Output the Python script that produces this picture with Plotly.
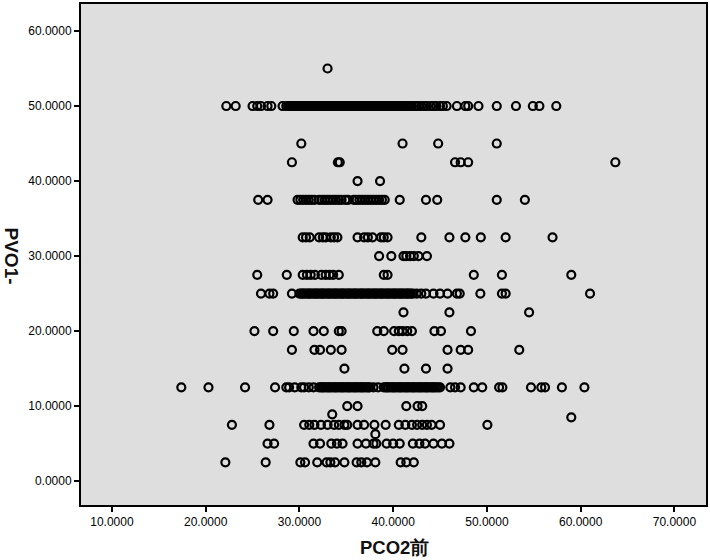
import plotly.graph_objects as go

# PCO2前 values (x) grouped by PVO1- level (y)
x_at_55 = [33.0]
x_at_50 = [22.2, 23.2, 25.0, 25.5, 25.9, 26.6, 27.0, 28.2,
           28.6, 28.8, 29.0, 29.15, 29.3, 29.5, 29.7, 29.85, 30.0, 30.2, 30.4, 30.55,
           30.7, 30.9, 31.1, 31.25, 31.4, 31.6, 31.8, 31.95, 32.1, 32.3, 32.5, 32.65,
           32.8, 33.0, 33.2, 33.35, 33.5, 33.7, 33.9, 34.05, 34.2, 34.4, 34.6, 34.75,
           34.9, 35.1, 35.3, 35.45, 35.6, 35.8, 36.0, 36.15, 36.3, 36.5, 36.7, 36.85,
           37.0, 37.2, 37.4, 37.55, 37.7, 37.9, 38.1, 38.25, 38.4, 38.6, 38.8, 38.95,
           39.1, 39.3, 39.5, 39.65, 39.8, 40.0, 40.2, 40.35, 40.5, 40.7, 40.9, 41.05,
           41.2, 41.4, 41.6, 41.8, 42.0,
           42.3, 42.5, 42.7, 43.0, 43.3, 43.6, 44.0, 44.3, 44.6, 45.0, 45.3, 45.7,
           46.8, 47.7, 48.0, 49.1, 51.05, 53.1, 54.9, 55.6, 57.4]
x_at_45 = [30.2, 41.0, 44.8, 51.05]
x_at_42_5 = [29.2, 34.1, 34.3, 46.6, 47.2, 48.0, 63.7]
x_at_40 = [36.2, 38.6]
x_at_37_5 = [25.6, 26.6, 29.8, 30.1, 30.4, 30.7, 31.0, 31.3, 31.6, 32.1, 32.4, 32.7,
             33.0, 33.3, 33.6, 33.9, 34.2, 34.5, 34.9, 35.2, 35.8, 36.1, 36.4, 36.7,
             37.0, 37.3, 37.6, 37.9, 38.2, 38.5, 38.8, 39.1, 40.7, 43.5, 44.7, 51.05,
             54.05]
x_at_32_5 = [30.35, 30.7, 31.1, 32.1, 32.5, 32.8, 33.35, 33.7, 34.05, 36.2, 36.9,
             37.3, 37.8, 38.7, 39.0, 39.4, 43.0, 46.0, 47.7, 49.35, 52.0, 57.0]
x_at_30 = [38.5, 39.8, 41.1, 41.4, 41.8, 42.2, 42.7, 43.6]
x_at_27_5 = [25.5, 28.65, 30.35, 30.8, 31.2, 31.65, 32.35, 32.8, 33.2, 33.6, 34.2,
             39.0, 39.4, 48.6, 51.6, 59.0]
x_at_25 = [25.9, 26.8, 27.2, 29.2,
           30.0, 30.2, 30.35, 30.5, 30.7, 30.9, 31.05, 31.2, 31.4, 31.6, 31.75, 31.9,
           32.1, 32.3, 32.45, 32.6, 32.8, 33.0, 33.15, 33.3, 33.5, 33.7, 33.85, 34.0,
           34.2, 34.4, 34.55, 34.7, 34.9, 35.1, 35.25, 35.4, 35.6, 35.8, 35.95, 36.1,
           36.3, 36.5, 36.65, 36.8, 37.0, 37.2, 37.35, 37.5, 37.7, 37.9, 38.05, 38.2,
           38.4, 38.6, 38.75, 38.9, 39.1, 39.3, 39.45, 39.6, 39.8, 40.0, 40.15, 40.3,
           40.5, 40.7, 40.85, 41.0, 41.2, 41.4, 41.55, 41.7, 41.9, 42.1,
           42.5, 43.0, 43.5, 44.3, 45.0, 45.8, 46.8, 47.1, 49.3, 51.6, 52.0, 61.0]
x_at_22_5 = [41.1, 46.0, 54.5]
x_at_20 = [25.2, 27.2, 29.4, 31.5, 32.6, 34.2, 34.5, 38.3, 39.0, 40.1, 40.6, 41.0,
           41.5, 42.0, 44.4, 45.1, 48.3]
x_at_17_5 = [29.2, 31.6, 32.2, 33.35, 34.5, 39.9, 41.0, 45.8, 47.2, 48.0, 53.45]
x_at_15 = [34.8, 41.2, 43.5, 45.8]
x_at_12_5 = [17.4, 20.3, 24.2, 27.4, 28.6, 28.9, 29.5, 30.2, 30.5, 31.0, 31.5,
             32.1, 32.3, 32.45, 32.6, 32.8, 33.0, 33.15, 33.3, 33.5, 33.7, 33.85, 34.0,
             34.2, 34.4, 34.55, 34.7, 34.9, 35.1, 35.25, 35.4, 35.6, 35.8, 35.95, 36.1,
             36.3, 36.5, 36.65, 36.8, 37.0, 37.2, 37.35, 37.5,
             37.9, 38.4,
             39.0, 39.2, 39.35, 39.5, 39.7, 39.9, 40.05, 40.2, 40.4, 40.6, 40.75, 40.9,
             41.1, 41.3, 41.45, 41.6, 41.8, 42.0, 42.15, 42.3, 42.5, 42.7, 42.85, 43.0,
             43.2, 43.4, 43.55, 43.7, 43.9, 44.1, 44.25, 44.4, 44.6, 44.8, 45.0,
             46.1, 46.6, 47.2, 48.6, 49.5, 51.3, 51.65, 54.7, 55.8, 56.2, 58.0, 60.4]
x_at_10 = [35.1, 36.2, 41.4, 42.6, 43.1]
x_at_8_9 = [33.5]
x_at_8_5 = [59.0]
x_at_7_5 = [22.8, 26.8, 30.5, 31.05, 31.6, 32.3, 33.0, 33.7, 34.2, 34.8, 35.1, 36.2,
            36.9, 38.0, 39.2, 40.6, 41.3, 42.0, 42.55, 43.1, 43.6, 44.1, 45.0, 50.05]
x_at_6_25 = [38.1]
x_at_5 = [26.6, 27.3, 31.5, 32.2, 33.4, 34.0, 34.6, 36.2, 37.1, 37.9, 38.2, 39.3,
          40.0, 40.7, 42.1, 42.8, 43.4, 44.3, 45.2, 46.0]
x_at_2_5 = [22.1, 26.4, 30.1, 30.6, 31.9, 32.9, 33.3, 33.8, 34.8, 36.1, 36.6, 37.2,
            38.1, 40.8, 41.4, 42.2]

pvo_levels = [55, 50, 45, 42.5, 40, 37.5, 32.5, 30, 27.5, 25, 22.5, 20, 17.5, 15,
              12.5, 10, 8.9, 8.5, 7.5, 6.25, 5, 2.5]
pco_groups = [x_at_55, x_at_50, x_at_45, x_at_42_5, x_at_40, x_at_37_5, x_at_32_5,
              x_at_30, x_at_27_5, x_at_25, x_at_22_5, x_at_20, x_at_17_5, x_at_15,
              x_at_12_5, x_at_10, x_at_8_9, x_at_8_5, x_at_7_5, x_at_6_25, x_at_5,
              x_at_2_5]

x_ticks = [10, 20, 30, 40, 50, 60, 70]
y_ticks = [0, 10, 20, 30, 40, 50, 60]

xs, ys = [], []
for lvl, grp in zip(pvo_levels, pco_groups):
    xs.extend(grp)
    ys.extend([lvl] * len(grp))

fig = go.Figure()
fig.add_trace(go.Scatter(
    x=xs, y=ys, mode="markers",
    marker=dict(symbol="circle-open", size=8, color="black",
                line=dict(width=2.2, color="black")),
    hoverinfo="x+y", showlegend=False,
))

font_fam = "Liberation Sans, Arial, Helvetica, sans-serif"
axis_common = dict(
    showline=True, linecolor="black", linewidth=2, mirror=True,
    ticks="outside", ticklen=5, tickwidth=2, tickcolor="black",
    showgrid=False, zeroline=False, tickformat=".4f",
    tickfont=dict(family=font_fam, size=12, color="#000000"),
)

fig.update_layout(
    width=710, height=560,
    margin=dict(l=81, r=3, t=2, b=55),
    paper_bgcolor="white", plot_bgcolor="#DEDEDE",
    xaxis=dict(range=[6.7, 73.37], tickvals=x_ticks, **axis_common),
    yaxis=dict(range=[-3.19, 63.6], tickvals=y_ticks, **axis_common),
    annotations=[
        dict(text="<b>PCO2前</b>", xref="paper", yref="paper", x=0.5016, y=-0.0855,
             xanchor="center", yanchor="middle", showarrow=False,
             font=dict(family=font_fam, size=18.5, color="#111111")),
        dict(text="<b>PVO1-</b>", xref="paper", yref="paper", x=-0.112, y=0.498,
             xanchor="center", yanchor="middle", showarrow=False, textangle=90,
             font=dict(family=font_fam, size=19, color="#111111")),
    ],
)

fig.write_html("out.html")
